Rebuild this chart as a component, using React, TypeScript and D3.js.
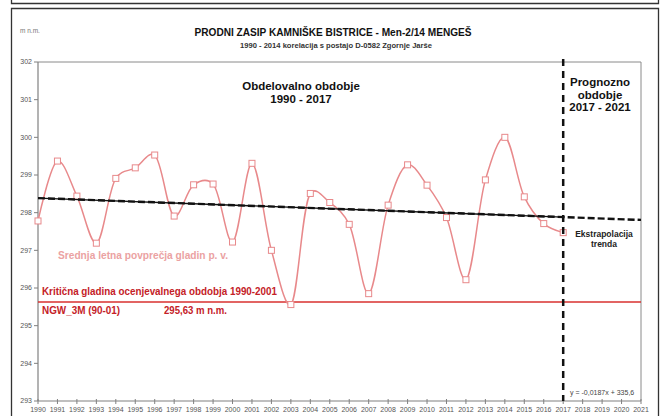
import React from "react";
import * as d3 from "d3";

// Annual mean groundwater levels (m n.m.), Men-2/14 Mengeš
const years = [
  1990, 1991, 1992, 1993, 1994, 1995, 1996, 1997, 1998, 1999, 2000, 2001, 2002, 2003,
  2004, 2005, 2006, 2007, 2008, 2009, 2010, 2011, 2012, 2013, 2014, 2015, 2016, 2017,
];
const levels = [
  297.78, 299.37, 298.44, 297.19, 298.91, 299.19, 299.53, 297.91, 298.74, 298.76, 297.22,
  299.31, 297.0, 295.56, 298.51, 298.27, 297.69, 295.85, 298.2, 299.27, 298.73, 297.87,
  296.22, 298.87, 300.0, 298.42, 297.71, 297.47,
];

const xTickYears = [
  1990, 1991, 1992, 1993, 1994, 1995, 1996, 1997, 1998, 1999, 2000, 2001, 2002, 2003, 2004,
  2005, 2006, 2007, 2008, 2009, 2010, 2011, 2012, 2013, 2014, 2015, 2016, 2017, 2018, 2019,
  2020, 2021,
];
const yTicks = [293, 294, 295, 296, 297, 298, 299, 300, 301, 302];

// Linear trend y = -0,0187x + 335,6
const trendSlope = -0.0187;
const trendIntercept = 335.6;
const trendStart = 1990;
const trendFitEnd = 2017;
const trendEnd = 2021;

const criticalLevel = 295.63;
const forecastStart = 2017;

const W = 665;
const H = 416;
const plot = { left: 38, right: 641, top: 62, bottom: 401 };

const FONT = "Liberation Sans, Arial, sans-serif";

export default function App() {
  const x = d3.scaleLinear().domain([1990, 2021]).range([plot.left, plot.right]);
  const y = d3.scaleLinear().domain([293, 302]).range([plot.bottom, plot.top]);

  const pts: [number, number][] = years.map((yr, i) => [yr, levels[i]]);
  const line = d3
    .line<[number, number]>()
    .x((d) => x(d[0]))
    .y((d) => y(d[1]))
    .curve(d3.curveCatmullRom.alpha(0.25));

  const trend = (yr: number) => trendSlope * yr + trendIntercept;

  return (
    <svg
      width={W}
      height={H}
      style={{ position: "absolute", left: 0, top: 0, background: "#fff" }}
      fontFamily={FONT}
    >
      {/* frames */}
      <path d={`M11.5,0 V3.5 H658.5 V0`} fill="none" stroke="#333" strokeWidth={1.3} />
      <path d={`M11.5,${H} V8.5 H658.5 V${H}`} fill="none" stroke="#333" strokeWidth={1.3} />

      {/* titles */}
      <text x={20} y={33} fontSize={6.5} fill="#777">m n.m.</text>
      <text x={333} y={36} textAnchor="middle" fontSize={10.5} fontWeight="bold" fill="#111" textLength={277} lengthAdjust="spacingAndGlyphs">
        PRODNI ZASIP KAMNIŠKE BISTRICE - Men-2/14 MENGEŠ
      </text>
      <text x={336} y={48} textAnchor="middle" fontSize={7.5} fontWeight="bold" fill="#333" textLength={192} lengthAdjust="spacingAndGlyphs">
        1990 - 2014 korelacija s postajo  D-0582 Zgornje Jarše
      </text>

      {/* plot frame */}
      <path
        d={`M${plot.left},${plot.top} H${plot.right} V${plot.bottom}`}
        fill="none"
        stroke="#8a8a8a"
        strokeWidth={1}
      />
      <line x1={plot.left} x2={plot.left} y1={plot.top} y2={plot.bottom} stroke="#808080" strokeWidth={1.2} />
      <line x1={plot.left} x2={plot.right} y1={plot.bottom} y2={plot.bottom} stroke="#808080" strokeWidth={1.2} />

      {/* y axis */}
      {yTicks.map((t) => (
        <g key={t}>
          <line x1={plot.left - 4} x2={plot.left} y1={y(t)} y2={y(t)} stroke="#808080" />
          <text x={plot.left - 6} y={y(t)} dy="0.35em" textAnchor="end" fontSize={7} fill="#555">
            {t}
          </text>
        </g>
      ))}

      {/* x axis */}
      {xTickYears.map((t) => (
        <g key={t}>
          <line x1={x(t)} x2={x(t)} y1={plot.bottom - 2} y2={plot.bottom + 3} stroke="#808080" />
          <text x={x(t)} y={410} dy="0.35em" textAnchor="middle" fontSize={7} fill="#555">
            {t}
          </text>
        </g>
      ))}

      {/* critical level */}
      <line
        x1={plot.left}
        x2={plot.right}
        y1={y(criticalLevel)}
        y2={y(criticalLevel)}
        stroke="#d9302f"
        strokeWidth={1.4}
      />
      <text x={42} y={295} fontSize={10} fontWeight="bold" fill="#c42127" textLength={235} lengthAdjust="spacingAndGlyphs">
        Kritična gladina ocenjevalnega obdobja 1990-2001
      </text>
      <text x={42} y={314} fontSize={10} fontWeight="bold" fill="#c42127" textLength={78} lengthAdjust="spacingAndGlyphs">
        NGW_3M  (90-01)
      </text>
      <text x={164} y={314} fontSize={10} fontWeight="bold" fill="#c42127" textLength={63} lengthAdjust="spacingAndGlyphs">
        295,63  m n.m.
      </text>

      {/* water level series */}
      <path d={line(pts) || ""} fill="none" stroke="#e8898b" strokeWidth={1.5} />
      {pts.map((d) => (
        <rect
          key={d[0]}
          x={x(d[0]) - 3}
          y={y(d[1]) - 3}
          width={6}
          height={6}
          fill="#fff"
          stroke="#e8898b"
          strokeWidth={1}
        />
      ))}
      <text x={58} y={259} fontSize={10} fontWeight="bold" fill="#eba2a2" textLength={170} lengthAdjust="spacingAndGlyphs">
        Srednja letna povprečja gladin p. v.
      </text>

      {/* trend line: fitted part and extrapolation */}
      <line
        x1={x(trendStart)}
        x2={x(trendFitEnd)}
        y1={y(trend(trendStart))}
        y2={y(trend(trendFitEnd))}
        stroke="#111"
        strokeWidth={1.4}
      />
      <line
        x1={x(trendStart)}
        x2={x(trendEnd)}
        y1={y(trend(trendStart))}
        y2={y(trend(trendEnd))}
        stroke="#111"
        strokeWidth={2.4}
        strokeDasharray="7,3"
      />

      {/* forecast boundary */}
      <line
        x1={x(forecastStart)}
        x2={x(forecastStart)}
        y1={plot.top - 3}
        y2={plot.bottom}
        stroke="#111"
        strokeWidth={2.5}
        strokeDasharray="7,5"
      />

      {/* period labels */}
      <g fontWeight="bold" fontSize={11.5} fill="#111" textAnchor="middle">
        <text x={301} y={90}>Obdelovalno obdobje</text>
        <text x={301} y={103}>1990 - 2017</text>
        <text x={600} y={86}>Prognozno</text>
        <text x={600} y={98.5}>obdobje</text>
        <text x={600} y={111}>2017 - 2021</text>
      </g>
      <g fontWeight="bold" fontSize={8.5} fill="#222" textAnchor="middle">
        <text x={604} y={237}>Ekstrapolacija</text>
        <text x={604} y={247}>trenda</text>
      </g>
      <text x={570} y={395} fontSize={7} fill="#444">
        y = -0,0187x + 335,6
      </text>
    </svg>
  );
}
